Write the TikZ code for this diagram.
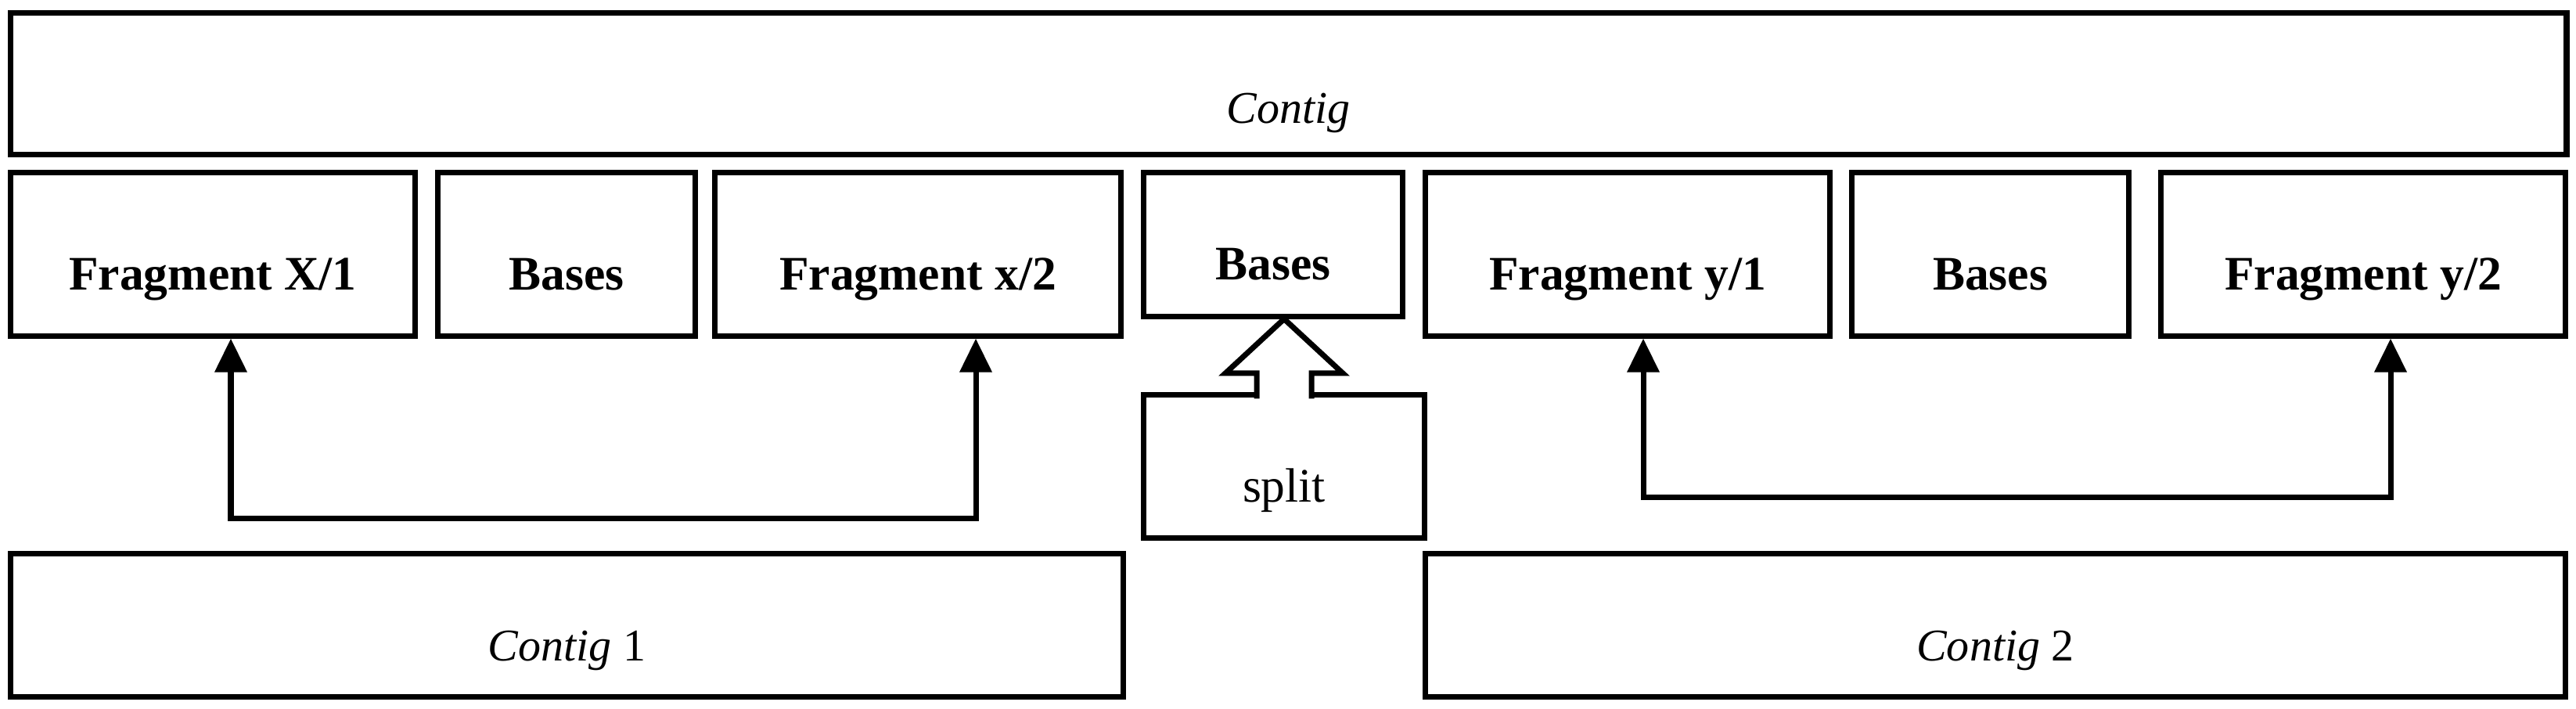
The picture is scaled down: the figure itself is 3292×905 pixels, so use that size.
\documentclass[tikz,border=0pt]{standalone}
\usepackage{fontspec}
\setmainfont{Liberation Serif}
\usetikzlibrary{arrows.meta, calc}

\begin{document}
\begin{tikzpicture}[
    x=0.01cm, y=-0.01cm,
    % Plain box style
    seqbox/.style={
        rectangle,
        draw=black,
        line width=2pt,
        fill=white,
        inner sep=0pt,
        text height=0.9cm,
        text depth=0pt
    },
    % Fragment and bases boxes
    fragbox/.style={
        seqbox,
        minimum height=2.08cm,
        font=\fontsize{17.5}{20}\selectfont\bfseries
    },
    % Contig boxes
    contigbox/.style={
        seqbox,
        minimum height=1.82cm,
        font=\fontsize{16.5}{20}\selectfont\itshape
    },
    % Arrow style
    link/.style={
        <->,
        >={Triangle[length=0.43cm, width=0.4cm]},
        line width=2pt,
        black
    },
    % Hollow block arrow style
    hollowarrow/.style={
        draw=black,
        fill=white,
        line width=2pt
    }
]
\useasboundingbox (0,0) rectangle (3292,905);

% === Top contig ===
\node[contigbox, minimum width=32.65cm, minimum height=1.80cm, text height=1.0cm] (contig) at (1646.5, 107) {Contig};

% === Fragment row ===
\node[fragbox, minimum width=5.16cm] (fx1) at (272, 325) {Fragment X/1};
\node[fragbox, minimum width=3.28cm] (bl) at (724, 325) {Bases};
\node[fragbox, minimum width=5.18cm] (fx2) at (1173, 325) {Fragment x/2};
\node[fragbox, minimum width=3.30cm, minimum height=1.83cm] (bm) at (1627, 312.5) {Bases};
\node[fragbox, minimum width=5.16cm] (fy1) at (2080, 325) {Fragment y/1};
\node[fragbox, minimum width=3.53cm] (br) at (2543.5, 325) {Bases};
\node[fragbox, minimum width=5.16cm] (fy2) at (3020, 325) {Fragment y/2};

% === Split box ===
\node[seqbox, minimum width=3.58cm, minimum height=1.82cm, font=\fontsize{17.5}{20}\selectfont] (split) at (1641, 596) {split};

% === Bottom contigs ===
\node[contigbox, minimum width=14.21cm] (c1) at (724.5, 799) {Contig \upshape 1};
\node[contigbox, minimum width=14.56cm] (c2) at (2550, 799) {Contig \upshape 2};

% === Links between fragments ===
\coordinate (l1) at (295, 662);
\coordinate (l2) at (1247, 662);
\coordinate (r1) at (2100, 635);
\coordinate (r2) at (3055, 635);
\draw[link] (fx1.south -| l1) -- (l1) -- (l2) -- (fx2.south -| l2);
\draw[link] (fy1.south -| r1) -- (r1) -- (r2) -- (fy2.south -| r2);

% === Split arrow ===
\coordinate (tip) at (split.north |- bm.south);
\draw[hollowarrow] ($(split.north)+(-35,8)$) -- ($(split.north)+(-35,-24.5)$)
    -- ($(split.north)+(-75,-24.5)$) -- (tip)
    -- ($(split.north)+(75,-24.5)$) -- ($(split.north)+(35,-24.5)$)
    -- ($(split.north)+(35,8)$);

\end{tikzpicture}
\end{document}
